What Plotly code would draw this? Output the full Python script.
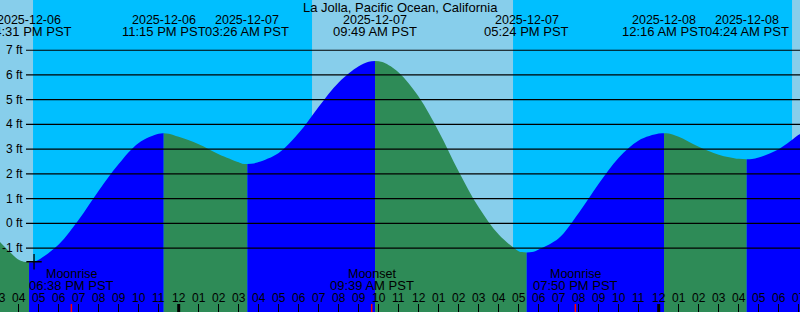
import plotly.graph_objects as go
import pandas as pd

# ---------------- data ----------------
title = "La Jolla, Pacific Ocean, California"

# tide curve readings (local time PST, height in ft)
tide_times = [
    "2025-12-06 15:00", "2025-12-06 16:00", "2025-12-06 16:15", "2025-12-06 16:31",
    "2025-12-06 16:45", "2025-12-06 17:00",
    "2025-12-06 18:00", "2025-12-06 19:00", "2025-12-06 20:00", "2025-12-06 21:00",
    "2025-12-06 22:00", "2025-12-06 23:00", "2025-12-06 23:15", "2025-12-06 23:30",
    "2025-12-07 00:00", "2025-12-07 01:00", "2025-12-07 02:00", "2025-12-07 03:00",
    "2025-12-07 03:10", "2025-12-07 03:26", "2025-12-07 03:45", "2025-12-07 04:00",
    "2025-12-07 05:00", "2025-12-07 06:00",
    "2025-12-07 07:00", "2025-12-07 08:00", "2025-12-07 09:00", "2025-12-07 09:30",
    "2025-12-07 09:49", "2025-12-07 10:00", "2025-12-07 10:15",
    "2025-12-07 11:00", "2025-12-07 12:00", "2025-12-07 13:00",
    "2025-12-07 14:00", "2025-12-07 15:00", "2025-12-07 16:00", "2025-12-07 17:00",
    "2025-12-07 17:10", "2025-12-07 17:24", "2025-12-07 17:40",
    "2025-12-07 18:00", "2025-12-07 19:00", "2025-12-07 20:00",
    "2025-12-07 21:00", "2025-12-07 22:00", "2025-12-07 23:00",
    "2025-12-08 00:00", "2025-12-08 00:16", "2025-12-08 00:30", "2025-12-08 01:00",
    "2025-12-08 02:00", "2025-12-08 03:00", "2025-12-08 04:00", "2025-12-08 04:24",
    "2025-12-08 04:40", "2025-12-08 05:00",
    "2025-12-08 06:00", "2025-12-08 07:00", "2025-12-08 07:05",
]
tide_heights = [
    -0.70, -1.47, -1.545, -1.57,
    -1.555, -1.47,
    -0.85, 0.15, 1.32, 2.40,
    3.25, 3.62, 3.64, 3.625,
    3.50, 3.20, 2.80, 2.47,
    2.415, 2.40, 2.425, 2.48,
    2.85, 3.65,
    4.72, 5.70, 6.35, 6.53,
    6.56, 6.55, 6.50,
    6.10, 5.12, 3.72,
    2.10, 0.65, -0.45, -1.12,
    -1.16, -1.18, -1.16,
    -1.05, -0.60, 0.42,
    1.60, 2.65, 3.35,
    3.63, 3.64, 3.635, 3.50,
    3.10, 2.78, 2.61, 2.59,
    2.60, 2.66,
    3.00, 3.58, 3.62,
]

# high / low tide events
extreme_times = [
    "2025-12-06 16:31", "2025-12-06 23:15", "2025-12-07 03:26", "2025-12-07 09:49",
    "2025-12-07 17:24", "2025-12-08 00:16", "2025-12-08 04:24",
]

# sunset / sunrise
sun_events = [
    ("sunset", "2025-12-06 16:43"), ("sunrise", "2025-12-07 06:40"),
    ("sunset", "2025-12-07 16:43"), ("sunrise", "2025-12-08 06:40"),
]

# moon events
moon_events = [
    ("Moonrise", "2025-12-06 18:38"),
    ("Moonset", "2025-12-07 09:39"),
    ("Moonrise", "2025-12-07 19:50"),
]

# small "+" mark
mark_time = "2025-12-06 16:46"
mark_height = -1.55

y_ticks = [-1, 0, 1, 2, 3, 4, 5, 6, 7]
y_tick_labels = [f"{v} ft" for v in y_ticks]

x_range = ["2025-12-06 15:03:54", "2025-12-08 07:03:54"]
y_range = [-3.58, 9.03]

# ---------------- styles ----------------
DAY = "#87CEEB"
NIGHT = "#00BFFF"
RISE = "#0000FF"
FALL = "#2E8B57"
FONT = "Liberation Sans"
W, H = 800, 312

fig = go.Figure()

t = pd.to_datetime(pd.Series(tide_times))
h = pd.Series(tide_heights)
ext = pd.to_datetime(pd.Series(extreme_times))

# tide fill segments (rising = blue, falling = green)
bounds = [t.iloc[0]] + list(ext) + [t.iloc[-1]]
for a, b in zip(bounds[:-1], bounds[1:]):
    m = (t >= a) & (t <= b)
    xs = t[m].tolist()
    ys = h[m].tolist()
    color = RISE if ys[-1] > ys[0] else FALL
    fig.add_trace(go.Scatter(x=xs, y=[y_range[0]] * len(xs), mode="lines",
                             line=dict(width=0), showlegend=False, hoverinfo="skip"))
    fig.add_trace(go.Scatter(x=xs, y=ys, mode="lines",
                             line=dict(width=0, shape="spline", smoothing=1, color=color),
                             fill="tonexty", fillcolor=color,
                             showlegend=False, hoverinfo="skip"))

# "+" mark
fig.add_trace(go.Scatter(x=[mark_time], y=[mark_height], mode="markers",
                         marker=dict(symbol="cross-thin", size=11,
                                     line=dict(color="black", width=1.3)),
                         showlegend=False, hoverinfo="skip"))

x0 = pd.to_datetime(x_range[0])
x1 = pd.to_datetime(x_range[1])
px_per_hour = W / ((x1 - x0).total_seconds() / 3600)

shapes = []
# daylight intervals
sun_t = [pd.to_datetime(s[1]) for s in sun_events]
edges = [x0] + sun_t + [x1]
for i in range(0, len(edges) - 1, 2):
    shapes.append(dict(type="rect", xref="x", yref="paper", x0=edges[i], x1=edges[i + 1],
                       y0=0, y1=1, fillcolor=DAY, line=dict(width=0), layer="below"))

# horizontal height lines
for v in y_ticks:
    shapes.append(dict(type="line", xref="paper", yref="y", x0=26 / W, x1=1, y0=v, y1=v,
                       line=dict(color="black", width=1.2), layer="above"))

# midnight ticks
for d in pd.date_range("2025-12-07", "2025-12-08", freq="D"):
    shapes.append(dict(type="line", xref="x", yref="paper", x0=d, x1=d, y0=0, y1=8 / H,
                       line=dict(color="black", width=3), layer="above"))
# moon event ticks
for name, tm in moon_events:
    shapes.append(dict(type="line", xref="x", yref="paper", x0=tm, x1=tm, y0=0, y1=8 / H,
                       line=dict(color="red", width=1.5), layer="above"))

ann = []
def py(ypx):
    return 1 - ypx / H

def txt(text, x, ypx, size, xref="x", xshift=0, xanchor="center"):
    return dict(text=text, x=x, xref=xref, y=py(ypx), yref="paper",
                xanchor=xanchor, yanchor="middle", xshift=xshift,
                showarrow=False, font=dict(size=size, color="black", family=FONT))

ann.append(txt(title, 0.5, 7.5, 13, xref="paper"))
for et in ext:
    ann.append(txt(et.strftime("%Y-%m-%d"), et, 20, 12.5))
    ann.append(txt(et.strftime("%I:%M %p PST"), et, 31.5, 13))
for name, tm in moon_events:
    tt = pd.to_datetime(tm)
    ann.append(txt(name, tt, 274, 12.5))
    ann.append(txt(tt.strftime("%I:%M %p PST"), tt, 285, 13))
# hour labels
for hr in pd.date_range("2025-12-06 15:00", "2025-12-08 07:00", freq="h"):
    if hr < x0:
        shift = (hr - x0).total_seconds() / 3600 * px_per_hour
        ann.append(txt(hr.strftime("%I"), x0, 297.5, 12, xshift=shift))
    else:
        ann.append(txt(hr.strftime("%I"), hr, 297.5, 12))
# height labels
for v, lab in zip(y_ticks, y_tick_labels):
    ann.append(dict(text=lab, x=24 / W, xref="paper", xanchor="right", y=v, yref="y",
                    yanchor="middle", showarrow=False, borderpad=0,
                    font=dict(size=12, color="black", family=FONT)))

fig.update_layout(
    width=W, height=H, margin=dict(l=0, r=0, t=0, b=0),
    plot_bgcolor=NIGHT, paper_bgcolor=NIGHT,
    shapes=shapes, annotations=ann, showlegend=False,
    xaxis=dict(type="date", range=x_range, showgrid=False, zeroline=False,
               showticklabels=False, ticks="inside", ticklen=8, tickwidth=1,
               tickcolor="black", tick0="2025-12-06 15:00", dtick=3600000),
    yaxis=dict(range=y_range, showgrid=False, zeroline=False, showticklabels=False),
)

fig.write_html("out.html")
